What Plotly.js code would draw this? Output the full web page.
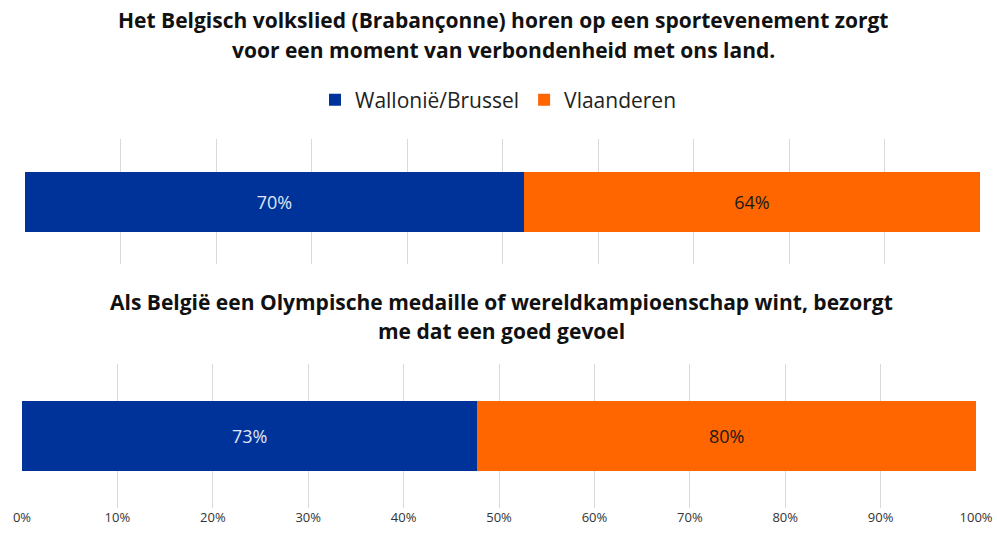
<!DOCTYPE html>
<html>
<head>
<meta charset="utf-8">
<script src="https://cdn.plot.ly/plotly-3.0.1.min.js"></script>
<style>html,body{margin:0;padding:0;background:#fff;}#chart{width:997px;height:536px;}</style>
</head>
<body>
<div id="chart"></div>
<script>
const question1Lines = [
  "Het Belgisch volkslied (Brabançonne) horen op een sportevenement zorgt",
  "voor een moment van verbondenheid met ons land."
];
const question2Lines = [
  "Als België een Olympische medaille of wereldkampioenschap wint, bezorgt",
  "me dat een goed gevoel"
];
const seriesNames = ["Wallonië/Brussel", "Vlaanderen"];
const wallonieBrussel = [70, 73];
const vlaanderen = [64, 80];
const tickVals = [0, 10, 20, 30, 40, 50, 60, 70, 80, 90, 100];
const tickText = ["0%", "10%", "20%", "30%", "40%", "50%", "60%", "70%", "80%", "90%", "100%"];

const colors = ["#003399", "#FF6600"];
const textColors = ["#dfe6f5", "#1a1a1a"];
const allSeries = [wallonieBrussel, vlaanderen];
const PH = 508; // plot-area height in px (536 - bottom margin)

const traces = [];
for (let q = 0; q < 2; q++) {
  const total = wallonieBrussel[q] + vlaanderen[q];
  for (let s = 0; s < 2; s++) {
    const v = allSeries[s][q];
    traces.push({
      type: "bar",
      orientation: "h",
      x: [v / total * 100],
      y: ["q"],
      xaxis: q === 0 ? "x" : "x2",
      yaxis: q === 0 ? "y" : "y2",
      name: seriesNames[s],
      legendgroup: seriesNames[s],
      showlegend: q === 0,
      width: 0.48,
      marker: {color: colors[s], line: {width: 0}},
      text: [v + "%"],
      textposition: "inside",
      insidetextanchor: "middle",
      textfont: {family: "Open Sans, sans-serif", size: 18, color: textColors[s]},
      hoverinfo: "skip"
    });
  }
}

const axisCommon = {
  range: [0, 100],
  tickvals: tickVals,
  ticktext: tickText,
  showgrid: true,
  gridcolor: "#d9d9d9",
  gridwidth: 1,
  zeroline: false,
  showline: false,
  ticks: "",
  fixedrange: true
};

function titleLine(text, xc, yc) {
  return {
    text: "<b>" + text + "</b>",
    xref: "paper", yref: "paper",
    x: xc, xanchor: "center",
    y: 1 - yc / PH, yanchor: "middle",
    showarrow: false,
    font: {family: "Open Sans, sans-serif", size: 21, color: "#111111"}
  };
}

const annotations = [];
const t1Y = [20, 50];
const t2Y = [302, 331];
question1Lines.forEach((t, i) => annotations.push(titleLine(t, 0.505, t1Y[i])));
question2Lines.forEach((t, i) => annotations.push(titleLine(t, 0.503, t2Y[i])));

const layout = {
  width: 997,
  height: 536,
  margin: {l: 0, r: 0, t: 0, b: 28},
  paper_bgcolor: "#ffffff",
  plot_bgcolor: "rgba(0,0,0,0)",
  barmode: "stack",
  showlegend: true,
  legend: {
    orientation: "h",
    x: 0.5, xanchor: "center",
    y: 1 - 100 / PH, yanchor: "middle",
    font: {family: "Open Sans, sans-serif", size: 21, color: "#222222"},
    itemwidth: 30,
    traceorder: "normal"
  },
  xaxis: Object.assign({}, axisCommon, {domain: [0.0251, 0.983], anchor: "y", showticklabels: false}),
  yaxis: {domain: [1 - 264 / PH, 1 - 139 / PH], range: [-0.5, 0.5], showticklabels: false, showgrid: false, zeroline: false, fixedrange: true, anchor: "x"},
  xaxis2: Object.assign({}, axisCommon, {domain: [0.0221, 0.979], anchor: "y2", showticklabels: true,
    tickfont: {family: "Open Sans, sans-serif", size: 13, color: "#333333"}}),
  yaxis2: {domain: [0, 1 - 364 / PH], range: [-0.5, 0.5], showticklabels: false, showgrid: false, zeroline: false, fixedrange: true, anchor: "x2"},
  annotations: annotations
};

Plotly.newPlot("chart", traces, layout, {displayModeBar: false, staticPlot: true});
</script>
</body>
</html>
